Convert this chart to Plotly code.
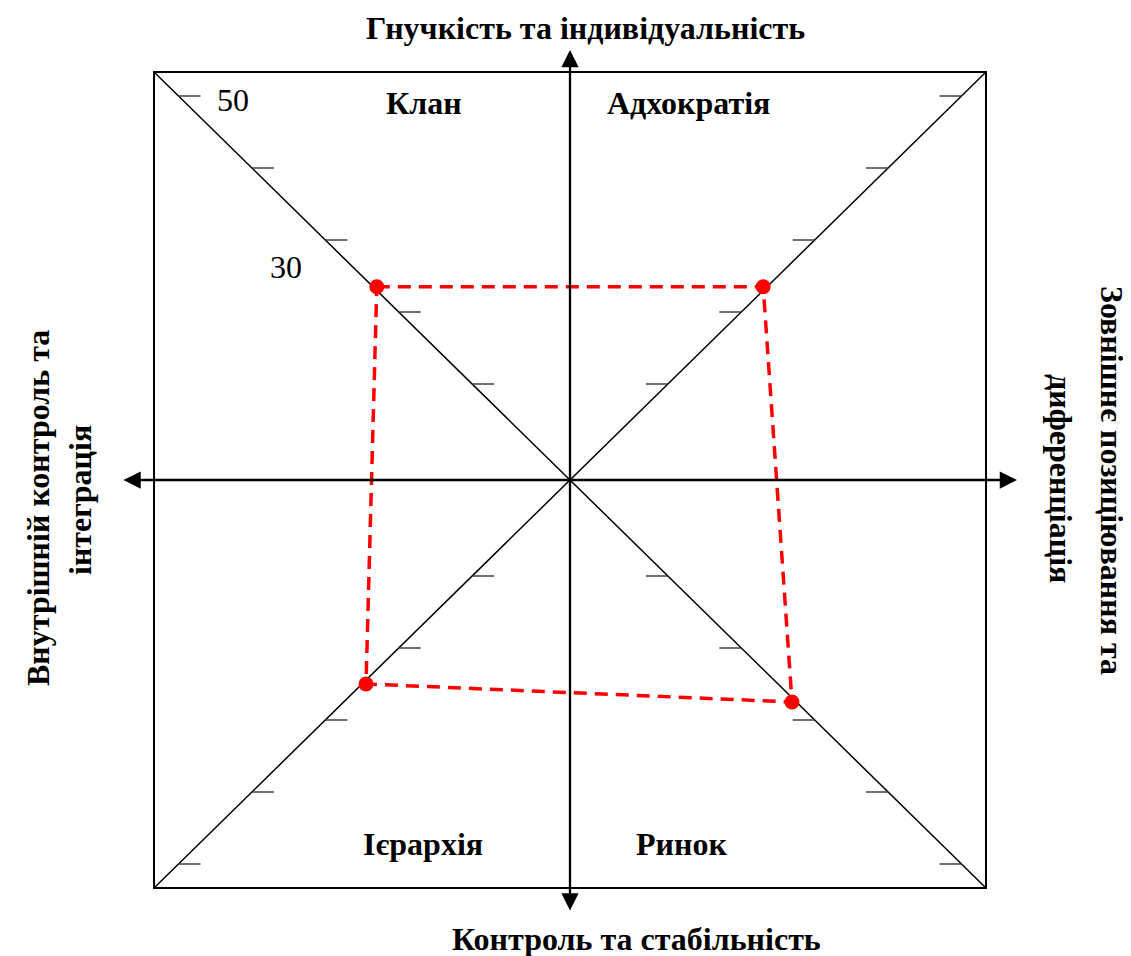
import plotly.graph_objects as go

# ---------------- data ----------------
cultures = ["Клан", "Адхократія", "Ієрархія", "Ринок"]
scores = [23.5, 23.5, 25.0, 27.5]
# diagonal direction of each culture (x sign, y sign)
dir_x = [-1, 1, -1, 1]
dir_y = [1, 1, -1, -1]
tick_values = [10, 20, 30, 40, 50]
tick_labels_shown = ["50", "30"]
axis_titles = {
    "top": "Гнучкість та індивідуальність",
    "bottom": "Контроль та стабільність",
    "left": ["Внутрішній контроль та", "інтеграція"],
    "right": ["Зовнішнє позиціювання та", "диференціація"],
}

# ---------------- layout geometry ----------------
W, H = 1131, 956
PAGE_OFF = 8               # default body margin of the html page
CX, CY = 570, 480          # screen pixel centre of the diagram
KX, KY = 7.341, 7.2        # pixels per unit
ASPECT = KY / KX           # profile points are drawn at a true 45 degrees
R_OFFSET = 24 / 7.2        # radial offset of the scale origin
FRAME = 408 / 7.2          # half size of the square frame
TICK_LEN = 3.0
FONT = "Liberation Serif, Times New Roman, serif"
FS = 32


def r(v):
    return v + R_OFFSET


def px(xp, yp):
    return (xp - CX) / KX, (CY - yp) / KY


fig = go.Figure()

# frame
fig.add_shape(type="rect", x0=-FRAME, x1=FRAME, y0=-FRAME, y1=FRAME,
              line=dict(color="black", width=2), layer="below")
# diagonals
fig.add_shape(type="line", x0=-FRAME, y0=FRAME, x1=FRAME, y1=-FRAME,
              line=dict(color="black", width=1.5), layer="below")
fig.add_shape(type="line", x0=-FRAME, y0=-FRAME, x1=FRAME, y1=FRAME,
              line=dict(color="black", width=1.5), layer="below")

# ticks on diagonals
tx, ty = [], []
for sx, sy in [(-1, 1), (1, 1), (-1, -1), (1, -1)]:
    for v in tick_values:
        rv = r(v)
        tx += [sx * rv, sx * (rv - TICK_LEN), None]
        ty += [sy * rv, sy * rv, None]
fig.add_trace(go.Scatter(x=tx, y=ty, mode="lines",
                         line=dict(color="#333333", width=1.4),
                         hoverinfo="skip"))

# axes with arrows
lx0, _ = px(122, CY)
lx1, _ = px(1017, CY)
_, vy0 = px(CX, 912)
_, vy1 = px(CX, 50)
for (x, y, ax, ay) in [(lx1, 0, lx0, 0), (0, vy1, 0, vy0)]:
    fig.add_annotation(x=x, y=y, ax=ax, ay=ay, xref="x", yref="y",
                       axref="x", ayref="y", text="", showarrow=True,
                       arrowhead=2, startarrowhead=2, arrowside="end+start",
                       arrowsize=1.5, startarrowsize=1.5, arrowwidth=2.3,
                       arrowcolor="black", standoff=0, startstandoff=0)

# profile polygon
pts_x = [dir_x[i] * r(s) * ASPECT for i, s in enumerate(scores)]
pts_y = [dir_y[i] * r(s) for i, s in enumerate(scores)]
order = [0, 1, 3, 2, 0]
fig.add_trace(go.Scatter(x=[pts_x[i] for i in order],
                         y=[pts_y[i] for i in order], mode="lines",
                         line=dict(color="#ff0000", width=3.5, dash="13px,8px"),
                         hoverinfo="skip"))
fig.add_trace(go.Scatter(x=pts_x, y=pts_y,
                         mode="markers", marker=dict(color="#ff0000", size=15),
                         text=cultures, hoverinfo="text"))

# texts
def label(text, xp, yp, angle=0, bold=True, size=FS, xanchor="center"):
    x, y = px(xp, yp)
    fig.add_annotation(x=x, y=y, xref="x", yref="y", showarrow=False,
                       text=f"<b>{text}</b>" if bold else text,
                       textangle=angle, xanchor=xanchor, yanchor="middle",
                       font=dict(family=FONT, size=size, color="black"))

label(axis_titles["top"], 585, 28)
label(axis_titles["bottom"], 636, 939)
label(axis_titles["left"][0], 38, 508, angle=-90)
label(axis_titles["left"][1], 80, 500, angle=-90)
label(axis_titles["right"][0], 1112, 480, angle=90)
label(axis_titles["right"][1], 1061, 478, angle=90)

quad_pos = {"Клан": (424, 103), "Адхократія": (688, 103),
            "Ієрархія": (423, 844), "Ринок": (681, 844)}
for c in cultures:
    label(c, *quad_pos[c])

label(tick_labels_shown[0], 215, 100, bold=False, xanchor="left")
label(tick_labels_shown[1], 268, 267, bold=False, xanchor="left")

# axis ranges: figure is drawn at an 8px page offset
xr0, yr0 = px(PAGE_OFF, H + PAGE_OFF)
xr1, yr1 = px(W + PAGE_OFF, PAGE_OFF)
fig.update_layout(
    width=W, height=H, margin=dict(l=0, r=0, t=0, b=0),
    paper_bgcolor="white", plot_bgcolor="white", showlegend=False,
    xaxis=dict(range=[xr0, xr1], visible=False, fixedrange=True),
    yaxis=dict(range=[yr0, yr1], visible=False, fixedrange=True),
)

fig.write_html("out.html")
